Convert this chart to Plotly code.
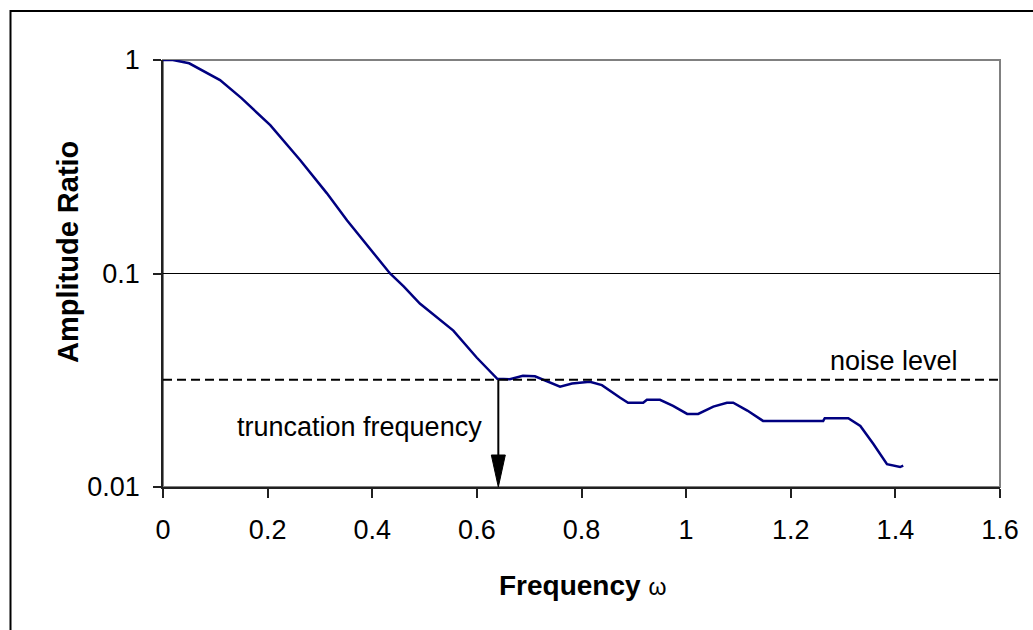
import plotly.graph_objects as go

# ---- data ----
omega = [0.0, 0.019, 0.05, 0.109, 0.15, 0.205, 0.262, 0.313, 0.352, 0.402, 0.434,
         0.46, 0.491, 0.555, 0.600, 0.639, 0.663, 0.688, 0.711, 0.759, 0.782, 0.816,
         0.839, 0.874, 0.889, 0.918, 0.925, 0.95, 0.975, 1.002, 1.023, 1.052, 1.078,
         1.09, 1.117, 1.147, 1.262, 1.265, 1.31, 1.333, 1.358, 1.384, 1.409, 1.415]
amplitude = [1.0, 1.0, 0.965, 0.805, 0.663, 0.495, 0.34, 0.238, 0.177, 0.124, 0.1,
             0.087, 0.0723, 0.054, 0.0403, 0.0321, 0.032, 0.0332, 0.033, 0.0295, 0.0305, 0.0311,
             0.030, 0.0262, 0.0248, 0.0248, 0.0256, 0.0256, 0.024, 0.022, 0.022, 0.0238, 0.0248,
             0.0248, 0.0228, 0.0204, 0.0204, 0.021, 0.021, 0.0193, 0.0159, 0.0128, 0.0124, 0.0126]

noise_level = 0.0318
truncation_frequency = 0.641

x_ticks = [0, 0.2, 0.4, 0.6, 0.8, 1.0, 1.2, 1.4, 1.6]
x_tick_labels = ["0", "0.2", "0.4", "0.6", "0.8", "1", "1.2", "1.4", "1.6"]
y_ticks = [0.01, 0.1, 1]
y_tick_labels = ["0.01", "0.1", "1"]

FONT = "Arial, 'Liberation Sans', sans-serif"
FS = 27

fig = go.Figure()
fig.add_trace(go.Scatter(x=omega, y=amplitude, mode="lines",
                         line=dict(color="#000080", width=2.5), showlegend=False,
                         hoverinfo="skip"))

L, R, T, B = 163, 33, 60, 143
W, H = 1033, 630
pw, ph = W - L - R, H - T - B

def px_x(p):
    return (p - L) / pw

def px_y(p):
    return (H - B - p) / ph

shapes = [
    # outer chart border
    dict(type="rect", xref="paper", yref="paper", x0=px_x(10.5), x1=px_x(1045),
         y0=px_y(645), y1=px_y(11), line=dict(color="black", width=2), layer="below"),
    # plot area frame (grey)
    dict(type="rect", xref="paper", yref="paper", x0=0, x1=1, y0=0, y1=1,
         line=dict(color="#808080", width=2), layer="below"),
    # gridline at 0.1
    dict(type="line", xref="paper", yref="y", x0=0, x1=1, y0=0.1, y1=0.1,
         line=dict(color="black", width=1), layer="below"),
    # noise level
    dict(type="line", xref="x", yref="y", x0=0, x1=1.608, y0=noise_level, y1=noise_level,
         line=dict(color="black", width=2, dash="9px,5px")),
    # truncation arrow shaft
    dict(type="line", xref="x", yref="y", x0=truncation_frequency, x1=truncation_frequency,
         y0=noise_level, y1=0.0115, line=dict(color="black", width=2)),
    # arrow head
    dict(type="path", xref="x", yref="y", xsizemode="pixel", ysizemode="pixel",
         xanchor=truncation_frequency, yanchor=0.01,
         path="M 0 0 L -7 32 L 7 32 Z", fillcolor="black", line=dict(color="black", width=1)),
]

annotations = [
    dict(text="truncation frequency", x=(235 - L) / 523, y=-1.718, xref="x", yref="y",
         xanchor="left", yanchor="middle", showarrow=False,
         font=dict(family=FONT, size=FS, color="black")),
    dict(text="noise level", x=(960 - L) / 523, y=-1.408, xref="x", yref="y",
         xanchor="right", yanchor="middle", showarrow=False,
         font=dict(family=FONT, size=FS, color="black")),
    dict(text="<b>Amplitude Ratio</b>", textangle=-90, x=px_x(68.5), y=px_y(252.5),
         xref="paper", yref="paper", xanchor="center", yanchor="middle", showarrow=False,
         font=dict(family=FONT, size=29, color="black")),
    dict(text="<b>Frequency</b> <span style='font-size:23px'>ω</span>", x=px_x(582), y=px_y(585),
         xref="paper", yref="paper", xanchor="center", yanchor="middle", showarrow=False,
         font=dict(family=FONT, size=28, color="black")),
]

fig.update_layout(
    width=W, height=H,
    margin=dict(l=L, r=R, t=T, b=B, pad=0),
    paper_bgcolor="white", plot_bgcolor="white",
    shapes=shapes, annotations=annotations,
    xaxis=dict(range=[0, 1.6], tickvals=x_ticks, ticktext=x_tick_labels,
               showgrid=False, zeroline=False, showline=True, linecolor="#202020", linewidth=1.5,
               ticks="outside", ticklen=9, tickwidth=1.5, tickcolor="#202020",
               tickfont=dict(family=FONT, size=FS, color="black"), ticklabelstandoff=9),
    yaxis=dict(type="log", range=[-2, 0], tickvals=y_ticks, ticktext=y_tick_labels,
               showgrid=False, zeroline=False, showline=True, linecolor="#202020", linewidth=1.5,
               ticks="outside", ticklen=8, tickwidth=1.5, tickcolor="#202020",
               tickfont=dict(family=FONT, size=FS, color="black"), ticklabelstandoff=8),
)

fig.write_html("out.html")
